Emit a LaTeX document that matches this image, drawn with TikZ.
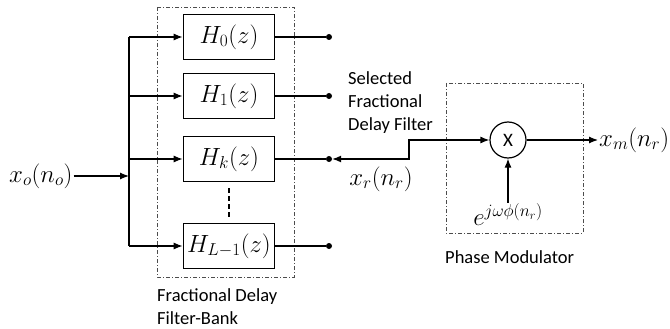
\documentclass[tikz,border=0pt]{standalone}
\usepackage{fontspec}
\setmainfont{Carlito}
\usetikzlibrary{arrows.meta}
\begin{document}
\begin{tikzpicture}[x=1pt, y=-1pt,
        filterbox/.style={draw, line width=1.6pt, minimum width=91pt, minimum height=45pt, inner sep=0pt, font=\fontsize{23}{26}\selectfont},
        groupbox/.style={draw=black!70, line width=0.7pt, dash pattern=on 4pt off 2pt on 1pt off 2pt},
        wire/.style={line width=1.2pt},
        sig/.style={wire, -{Latex[length=9pt,width=7pt]}},
        sigboth/.style={wire, {Latex[length=9pt,width=7pt]}-{Latex[length=9pt,width=7pt]}},
        tapdot/.style={circle, fill, inner sep=0pt, minimum size=6pt},
        mixer/.style={circle, draw, line width=1.2pt, minimum size=36pt, inner sep=0pt, font=\fontsize{19}{21}\selectfont},
        mathlbl/.style={font=\fontsize{23}{26}\selectfont, inner sep=1pt},
        sfnote/.style={font=\fontsize{18.5}{23}\selectfont, align=left, anchor=west, inner sep=0pt}
      ]
      \useasboundingbox (0,0) rectangle (670,329);
      % filter bank
      \draw[groupbox] (157,7) rectangle (294,277);
      \foreach \nm/\lbl/\y in {%
        h0/{H_0(z)}/37,
        h1/{H_1(z)}/96,
        hk/{H_k(z)}/159,
        hl/{H_{L-1}(z)}/246%
      }{
        \node[filterbox] (\nm) at (229,\y) {$\lbl$};
        \coordinate (\nm-in) at (129,\y);
        \node[tapdot] (\nm-out) at (329,\y) {};
        \draw[sig] (\nm-in) -- (\nm);
        \draw[wire] (\nm) -- (\nm-out);
      }
      \draw[wire] (h0-in) -- (hl-in);
      \draw[wire, dash pattern=on 5pt off 3pt] ([yshift=-6pt]hk.south) -- ([yshift=3pt]hl.north);
      % input
      \node[mathlbl, anchor=west] (xin) at (8,176) {$x_o(n_o)$};
      \coordinate (xin-bus) at (129,176);
      \draw[sig] (xin) -- (xin-bus);
      % phase modulator
      \draw[groupbox] (446,83) rectangle (583,233);
      \node[mixer] (mult) at (508,140) {X};
      \node[mathlbl] (phi) at (508,215) {$e^{j\omega\phi(n_r)}$};
      \draw[sig] (phi) -- (mult);
      \node[mathlbl, anchor=west] (xm) at (598,140) {$x_m(n_r)$};
      \draw[sig] (mult) -- (xm);
      % selected tap
      \coordinate (sel-bend) at (409,159);
      \draw[sigboth] (hk-out.east) -- (sel-bend) |- (mult.west);
      \node[mathlbl] (xr) at (381,179) {$x_r(n_r)$};
      % notes
      \node[sfnote] (selnote) at (348,103) {Selected\\Fractional\\Delay Filter};
      \node[sfnote] (fbnote) at (157,307) {Fractional Delay\\Filter-Bank};
      \node[sfnote] (pmnote) at (445,257) {Phase Modulator};
    \end{tikzpicture}
\end{document}
